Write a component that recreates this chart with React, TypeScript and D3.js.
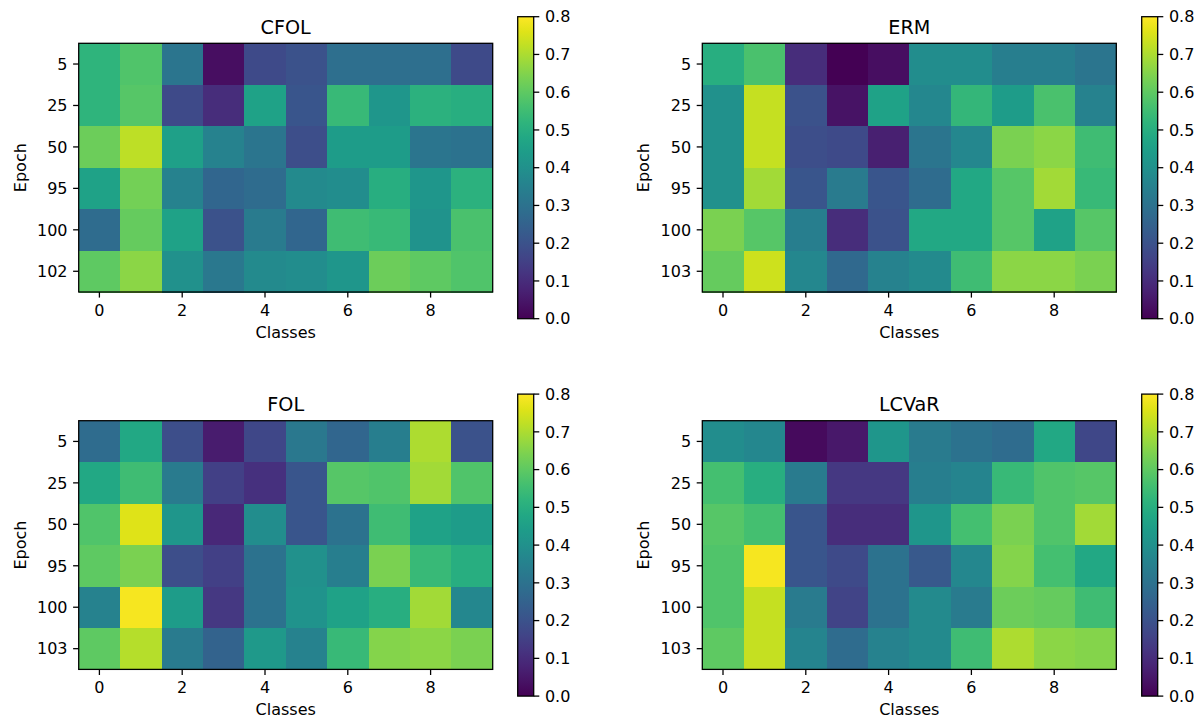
import React from "react";
import * as d3 from "d3";

const classes = [0, 1, 2, 3, 4, 5, 6, 7, 8, 9];
const xTicks = [0, 2, 4, 6, 8];
const cbTicks = [0, 0.1, 0.2, 0.3, 0.4, 0.5, 0.6, 0.7, 0.8];

const cfolEpochs = ["5", "25", "50", "95", "100", "102"];
const cfolValues = [
  [0.52, 0.58, 0.31, 0.03, 0.18, 0.2, 0.29, 0.29, 0.29, 0.18],
  [0.52, 0.59, 0.18, 0.1, 0.46, 0.21, 0.54, 0.42, 0.51, 0.5],
  [0.62, 0.72, 0.45, 0.35, 0.31, 0.19, 0.44, 0.44, 0.31, 0.3],
  [0.46, 0.63, 0.35, 0.26, 0.28, 0.38, 0.39, 0.5, 0.42, 0.51],
  [0.28, 0.61, 0.46, 0.2, 0.33, 0.26, 0.55, 0.54, 0.41, 0.57],
  [0.6, 0.66, 0.4, 0.32, 0.38, 0.39, 0.42, 0.62, 0.6, 0.58],
];

const ermEpochs = ["5", "25", "50", "95", "100", "103"];
const ermValues = [
  [0.5, 0.57, 0.1, 0.0, 0.03, 0.39, 0.39, 0.34, 0.34, 0.31],
  [0.4, 0.73, 0.2, 0.04, 0.46, 0.37, 0.53, 0.44, 0.57, 0.35],
  [0.4, 0.73, 0.19, 0.18, 0.07, 0.31, 0.37, 0.64, 0.66, 0.55],
  [0.4, 0.69, 0.21, 0.33, 0.21, 0.28, 0.48, 0.59, 0.69, 0.54],
  [0.64, 0.59, 0.34, 0.1, 0.2, 0.48, 0.48, 0.59, 0.46, 0.59],
  [0.61, 0.74, 0.37, 0.27, 0.35, 0.38, 0.55, 0.66, 0.66, 0.64],
];

const folEpochs = ["5", "25", "50", "95", "100", "103"];
const folValues = [
  [0.28, 0.48, 0.19, 0.06, 0.17, 0.32, 0.26, 0.34, 0.7, 0.2],
  [0.48, 0.55, 0.33, 0.15, 0.11, 0.21, 0.59, 0.58, 0.69, 0.58],
  [0.58, 0.76, 0.42, 0.09, 0.39, 0.21, 0.3, 0.55, 0.46, 0.44],
  [0.6, 0.64, 0.19, 0.15, 0.3, 0.4, 0.34, 0.64, 0.54, 0.5],
  [0.35, 0.79, 0.44, 0.13, 0.3, 0.41, 0.46, 0.5, 0.69, 0.37],
  [0.6, 0.71, 0.33, 0.25, 0.43, 0.35, 0.54, 0.65, 0.66, 0.64],
];

const lcvarEpochs = ["5", "25", "50", "95", "100", "103"];
const lcvarValues = [
  [0.39, 0.37, 0.02, 0.05, 0.42, 0.33, 0.3, 0.28, 0.48, 0.17],
  [0.56, 0.5, 0.33, 0.13, 0.13, 0.34, 0.36, 0.54, 0.58, 0.59],
  [0.59, 0.56, 0.21, 0.1, 0.1, 0.42, 0.56, 0.64, 0.58, 0.69],
  [0.58, 0.79, 0.21, 0.18, 0.3, 0.22, 0.37, 0.65, 0.56, 0.48],
  [0.58, 0.73, 0.33, 0.16, 0.3, 0.38, 0.33, 0.62, 0.61, 0.55],
  [0.6, 0.73, 0.36, 0.28, 0.35, 0.38, 0.55, 0.7, 0.66, 0.65],
];

const FONT = "DejaVu Sans, sans-serif";
const FS = 16;
const TFS = 19.2;
const SW = 1.28;
const W = 414;
const H = 248.7;
const TICK = 5.6;
const PAD = 5.6;
const color = d3.scaleSequential(d3.interpolateViridis).domain([0, 0.8]);

type PanelProps = {
  title: string;
  epochs: string[];
  values: number[][];
  left: number;
  top: number;
  cbLeft: number;
  gid: string;
};

function Panel({ title, epochs, values, left, top, cbLeft, gid }: PanelProps) {
  const x = d3.scaleBand<number>().domain(classes).range([left, left + W]);
  const y = d3.scaleBand<string>().domain(epochs).range([top, top + H]);
  const xc = (c: number) => (x(c) as number) + x.bandwidth() / 2;
  const yc = (e: string) => (y(e) as number) + y.bandwidth() / 2;
  const cbTop = top - 26.6;
  const cbH = 302;
  const cbW = 16;
  const cy = d3.scaleLinear().domain([0, 0.8]).range([cbTop + cbH, cbTop]);
  const stops = d3.range(0, 1.0001, 0.05);
  return (
    <g>
      <defs>
        <linearGradient id={gid} x1="0" y1="1" x2="0" y2="0">
          {stops.map((s) => (
            <stop key={s} offset={s} stopColor={d3.interpolateViridis(s)} />
          ))}
        </linearGradient>
      </defs>
      {values.map((row, i) =>
        row.map((v, j) => (
          <rect
            key={`${i}-${j}`}
            x={x(classes[j])}
            y={y(epochs[i])}
            width={x.bandwidth() + 0.5}
            height={y.bandwidth() + 0.5}
            fill={color(v)}
            shapeRendering="crispEdges"
          />
        ))
      )}
      <rect x={left} y={top} width={W} height={H} fill="none" stroke="#000" strokeWidth={SW} />
      {xTicks.map((t) => (
        <g key={t}>
          <line x1={xc(t)} x2={xc(t)} y1={top + H} y2={top + H + TICK} stroke="#000" strokeWidth={SW} />
          <text x={xc(t)} y={top + H + TICK + PAD} dy="0.78em" textAnchor="middle" fontSize={FS} fontFamily={FONT}>
            {t}
          </text>
        </g>
      ))}
      {epochs.map((e) => (
        <g key={e}>
          <line x1={left - TICK} x2={left} y1={yc(e)} y2={yc(e)} stroke="#000" strokeWidth={SW} />
          <text x={left - TICK - PAD} y={yc(e)} dy="0.36em" textAnchor="end" fontSize={FS} fontFamily={FONT}>
            {e}
          </text>
        </g>
      ))}
      <text x={left + W / 2} y={top + H + 46} textAnchor="middle" fontSize={FS} fontFamily={FONT}>
        Classes
      </text>
      <text
        transform={`translate(${left - 53},${top + H / 2}) rotate(-90)`}
        textAnchor="middle"
        fontSize={FS}
        fontFamily={FONT}
      >
        Epoch
      </text>
      <text x={left + W / 2} y={top - 9.6} textAnchor="middle" fontSize={TFS} fontFamily={FONT}>
        {title}
      </text>
      <rect x={cbLeft} y={cbTop} width={cbW} height={cbH} fill={`url(#${gid})`} />
      <rect x={cbLeft} y={cbTop} width={cbW} height={cbH} fill="none" stroke="#000" strokeWidth={SW} />
      {cbTicks.map((t) => (
        <g key={t}>
          <line x1={cbLeft + cbW} x2={cbLeft + cbW + TICK} y1={cy(t)} y2={cy(t)} stroke="#000" strokeWidth={SW} />
          <text x={cbLeft + cbW + TICK + PAD} y={cy(t)} dy="0.36em" textAnchor="start" fontSize={FS} fontFamily={FONT}>
            {t.toFixed(1)}
          </text>
        </g>
      ))}
    </g>
  );
}

export default function App() {
  return (
    <div style={{ position: "absolute", left: 0, top: 0 }}>
      <svg width={1202} height={719} style={{ display: "block", background: "#fff" }}>
        <Panel title="CFOL" epochs={cfolEpochs} values={cfolValues} left={78.7} top={43.3} cbLeft={517.7} gid="g1" />
        <Panel title="ERM" epochs={ermEpochs} values={ermValues} left={702.3} top={43.3} cbLeft={1141.7} gid="g2" />
        <Panel title="FOL" epochs={folEpochs} values={folValues} left={78.7} top={420.7} cbLeft={517.7} gid="g3" />
        <Panel title="LCVaR" epochs={lcvarEpochs} values={lcvarValues} left={702.3} top={420.7} cbLeft={1141.7} gid="g4" />
      </svg>
    </div>
  );
}
